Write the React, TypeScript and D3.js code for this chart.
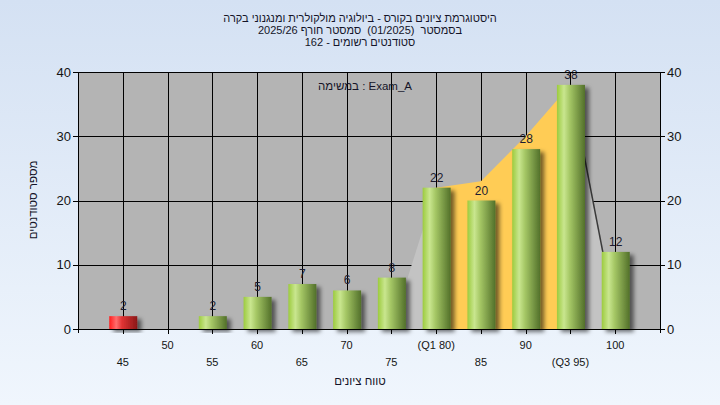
import React from 'react';
import * as d3 from 'd3';

// histogram data
const grades = [45, 50, 55, 60, 65, 70, 75, 80, 85, 90, 95, 100];
const counts = [2, 0, 2, 5, 7, 6, 8, 22, 20, 28, 38, 12];
const failGrades = [45];

// x tick labels, two staggered rows
const tickLabels = ['45', '50', '55', '60', '65', '70', '75', '(Q1 80)', '85', '90', '(Q3 95)', '100'];

// distribution area behind the bars
const areaGrades = [75, 80, 85, 90, 95, 100];
const areaValues = [0, 22, 23, 30, 38, 2];
const q1 = 80;
const q3 = 95;

const yTicks = [0, 10, 20, 30, 40];

const titleLines = [
    'היסטוגרמת ציונים בקורס - ביולוגיה מולקולרית ומנגנוני בקרה',
    'בסמסטר  (01/2025)  סמסטר חורף 2025/26',
];
const titleLine3 = 'סטודנטים רשומים - 162';
const legendText = 'במשימה : Exam_A';
const xTitle = 'טווח ציונים';
const yTitle = 'מספר סטודנטים';

const W = 720;
const H = 405;
const FONT = '"Liberation Sans", Arial, sans-serif';

export default function App() {
    const left = 78;
    const right = 660;
    const top = 72;
    const bottom = 329;

    const x = d3.scaleLinear().domain([40, 105]).range([left, right]);
    const y = d3.scaleLinear().domain([0, 40]).range([bottom, top]);
    const barW = 28;

    const areaPts = areaGrades.map((g, i) => ({ g, v: areaValues[i] }));
    const area = d3
        .area<{ g: number; v: number }>()
        .x((d) => x(d.g))
        .y0(y(0))
        .y1((d) => y(d.v));
    const line = d3
        .line<{ g: number; v: number }>()
        .x((d) => x(d.g))
        .y((d) => y(d.v));

    const lowPart = areaPts.filter((d) => d.g <= q1);
    const midPart = areaPts.filter((d) => d.g >= q1 && d.g <= q3);
    const highPart = areaPts.filter((d) => d.g >= q3);

    return (
        <svg
            width={W}
            height={H}
            style={{ position: 'absolute', left: 0, top: 0 }}
            fontFamily={FONT}
        >
            <defs>
                <linearGradient id="bg" x1="0" y1="0" x2="0" y2="1">
                    <stop offset="0%" stopColor="#d4e1f3" />
                    <stop offset="100%" stopColor="#f0f6fd" />
                </linearGradient>
                <linearGradient id="green" x1="0" y1="0" x2="1" y2="0">
                    <stop offset="0%" stopColor="#9ccb3e" />
                    <stop offset="25%" stopColor="#c9e68f" />
                    <stop offset="45%" stopColor="#a6c866" />
                    <stop offset="100%" stopColor="#52702a" />
                </linearGradient>
                <linearGradient id="red" x1="0" y1="0" x2="1" y2="0">
                    <stop offset="0%" stopColor="#ff1c1c" />
                    <stop offset="25%" stopColor="#ff6e6e" />
                    <stop offset="45%" stopColor="#e03434" />
                    <stop offset="100%" stopColor="#8a1818" />
                </linearGradient>
                <filter id="shadow" x="-30%" y="-30%" width="160%" height="160%">
                    <feDropShadow dx="4" dy="3" stdDeviation="2" floodColor="#000" floodOpacity="0.55" />
                </filter>
            </defs>

            <rect width={W} height={H} fill="url(#bg)" />

            {/* titles */}
            <g fontSize={11} fill="#141428" textAnchor="middle">
                {titleLines.map((t, i) => (
                    <text key={i} x={W / 2} y={22 + i * 12} direction="rtl" unicodeBidi="embed" xmlSpace="preserve">
                        {t}
                    </text>
                ))}
                <text x={W / 2} y={46}>{titleLine3}</text>
            </g>

            {/* plot area */}
            <rect x={left} y={top} width={right - left} height={bottom - top} fill="#b4b4b4" />

            {/* grid */}
            <g stroke="#000" strokeWidth={1}>
                {yTicks.filter((t) => t > 0).map((t) => (
                    <line key={t} x1={left} x2={right} y1={Math.round(y(t)) + 0.5} y2={Math.round(y(t)) + 0.5} />
                ))}
                {grades.map((g) => (
                    <line key={g} x1={Math.round(x(g)) + 0.5} x2={Math.round(x(g)) + 0.5} y1={top} y2={bottom} />
                ))}
            </g>

            {/* distribution area */}
            <path d={area(lowPart) ?? ''} fill="#c3c3c3" />
            <path d={area(highPart) ?? ''} fill="#c3c3c3" />
            <path d={area(midPart) ?? ''} fill="#ffcc55" />
            <path d={line(highPart) ?? ''} fill="none" stroke="#3a3a3a" strokeWidth={1.5} />

            {/* bars */}
            {grades.map((g, i) =>
                counts[i] > 0 ? (
                    <rect
                        key={g}
                        x={x(g) + 0.5 - barW / 2}
                        y={y(counts[i])}
                        width={barW}
                        height={y(0) - y(counts[i])}
                        fill={failGrades.includes(g) ? 'url(#red)' : 'url(#green)'}
                        filter="url(#shadow)"
                    />
                ) : null
            )}

            {/* value labels */}
            <g fontSize={12} fill="#1c1c30" textAnchor="middle">
                {grades.map((g, i) =>
                    counts[i] > 0 ? (
                        <text key={g} x={x(g) + 0.5} y={y(counts[i]) - 6}>
                            {counts[i]}
                        </text>
                    ) : null
                )}
            </g>

            <text x={365} y={90} fontSize={11.5} fill="#141428" textAnchor="middle">
                {legendText}
            </text>

            {/* axes */}
            <g stroke="#000" strokeWidth={1}>
                <line x1={left + 0.5} x2={left + 0.5} y1={top} y2={bottom + 4} />
                <line x1={right + 0.5} x2={right + 0.5} y1={top} y2={bottom + 4} />
                <line x1={left} x2={right} y1={bottom + 0.5} y2={bottom + 0.5} />
                <line x1={left} x2={right} y1={top + 0.5} y2={top + 0.5} />
                {yTicks.map((t) => (
                    <g key={t}>
                        <line x1={left - 5} x2={left} y1={Math.round(y(t)) + 0.5} y2={Math.round(y(t)) + 0.5} />
                        <line x1={right} x2={right + 5} y1={Math.round(y(t)) + 0.5} y2={Math.round(y(t)) + 0.5} />
                    </g>
                ))}
                {grades.map((g) => (
                    <line key={g} x1={Math.round(x(g)) + 0.5} x2={Math.round(x(g)) + 0.5} y1={bottom} y2={bottom + 5} />
                ))}
            </g>
            <g fontSize={13} fill="#141414">
                {yTicks.map((t) => (
                    <g key={t}>
                        <text x={left - 7} y={y(t) + 4.5} textAnchor="end">{t}</text>
                        <text x={right + 7} y={y(t) + 4.5} textAnchor="start">{t}</text>
                    </g>
                ))}
            </g>
            <g fontSize={11} fill="#141414" textAnchor="middle">
                {grades.map((g, i) => (
                    <text key={g} x={x(g)} y={i % 2 === 1 ? 349 : 366}>
                        {tickLabels[i]}
                    </text>
                ))}
            </g>

            <text x={W / 2} y={385} fontSize={11.5} fill="#141428" textAnchor="middle">
                {xTitle}
            </text>
            <text
                transform={`translate(37,200) rotate(-90)`}
                fontSize={11.5}
                fill="#141428"
                textAnchor="middle"
            >
                {yTitle}
            </text>
        </svg>
    );
}
